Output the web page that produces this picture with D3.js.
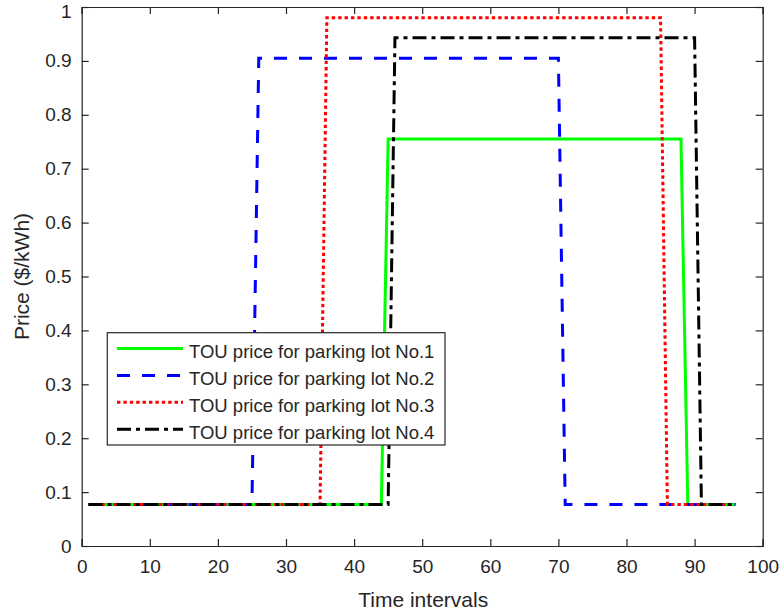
<!DOCTYPE html>
<html>
<head>
<meta charset="utf-8">
<script src="https://cdn.jsdelivr.net/npm/d3@7"></script>
<style>
  html, body { margin: 0; padding: 0; background: #fff; }
  svg { display: block; }
  text { font-family: "Liberation Sans", Arial, Helvetica, sans-serif; fill: #262626; }
</style>
</head>
<body>
<svg id="chart" width="783" height="615"></svg>
<script>
// Time-of-use price profiles: corner points of each step profile (interval, $/kWh)
const baseline = 0.077;
const seriesNames = [
  "TOU price for parking lot No.1",
  "TOU price for parking lot No.2",
  "TOU price for parking lot No.3",
  "TOU price for parking lot No.4"
];
const lot1X = [1, 44, 45, 88, 89, 96];
const lot1Y = [baseline, baseline, 0.755, 0.755, baseline, baseline];
const lot2X = [1, 25, 26, 70, 71, 96];
const lot2Y = [baseline, baseline, 0.905, 0.905, baseline, baseline];
const lot3X = [1, 35, 36, 85, 86, 96];
const lot3Y = [baseline, baseline, 0.980, 0.980, baseline, baseline];
const lot4X = [1, 45, 46, 90, 91, 96];
const lot4Y = [baseline, baseline, 0.943, 0.943, baseline, baseline];
const xTicks = [0, 10, 20, 30, 40, 50, 60, 70, 80, 90, 100];
const yTicks = [0, 0.1, 0.2, 0.3, 0.4, 0.5, 0.6, 0.7, 0.8, 0.9, 1];

const styles = [
  { color: "#00ff00", dash: null, width: 3 },
  { color: "#0000ff", dash: "13,12", width: 3 },
  { color: "#ff0000", dash: "3.4,3", width: 3 },
  { color: "#000000", dash: "14,5,4,5", width: 3 }
];

const series = [
  lot1X.map((x, i) => [x, lot1Y[i]]),
  lot2X.map((x, i) => [x, lot2Y[i]]),
  lot3X.map((x, i) => [x, lot3Y[i]]),
  lot4X.map((x, i) => [x, lot4Y[i]])
];

const svg = d3.select("#chart");
const plotLeft = 81.7, plotRight = 762.7, plotTop = 7, plotBottom = 546;
const x = d3.scaleLinear().domain([0, 100]).range([plotLeft, plotRight]);
const y = d3.scaleLinear().domain([0, 1]).range([plotBottom, plotTop]);
const axisColor = "#262626";
const tickFont = "19px";

// data lines, drawn in lot order so lot 4 sits on top
const line = d3.line().x(d => x(d[0])).y(d => y(d[1]));
const plot = svg.append("g");
series.forEach((s, i) => {
  plot.append("path")
    .datum(s)
    .attr("d", line)
    .attr("fill", "none")
    .attr("stroke", styles[i].color)
    .attr("stroke-width", styles[i].width)
    .attr("stroke-dasharray", styles[i].dash)
    .attr("stroke-linejoin", "miter");
});

// axes with inward ticks on all four sides (box on)
const tickLen = 7;
const fmt = d => d3.format("~g")(d);
const bottomAxis = d3.axisBottom(x).tickValues(xTicks).tickSize(-tickLen).tickPadding(14).tickFormat(fmt);
const topAxis = d3.axisTop(x).tickValues(xTicks).tickSize(-tickLen).tickFormat("");
const leftAxis = d3.axisLeft(y).tickValues(yTicks).tickSize(-tickLen).tickPadding(10).tickFormat(fmt);
const rightAxis = d3.axisRight(y).tickValues(yTicks).tickSize(-tickLen).tickFormat("");

function styleAxis(g) {
  g.select(".domain").attr("stroke", axisColor).attr("stroke-width", 1.2);
  g.selectAll(".tick line").attr("stroke", axisColor).attr("stroke-width", 1.2);
  g.selectAll(".tick text").style("font-size", tickFont).attr("fill", axisColor)
    .style("font-family", "'Liberation Sans', Arial, sans-serif");
}

svg.append("g").attr("transform", `translate(0,${plotBottom})`).call(bottomAxis).call(styleAxis)
  .selectAll(".tick text").attr("dy", "0.71em");
svg.append("g").attr("transform", `translate(0,${plotTop})`).call(topAxis).call(styleAxis);
const leftG = svg.append("g").attr("transform", `translate(${plotLeft},0)`).call(leftAxis).call(styleAxis);
// keep the top label "1" inside the canvas
leftG.selectAll(".tick text").filter(d => d === 1).attr("dy", "0.56em");
svg.append("g").attr("transform", `translate(${plotRight},0)`).call(rightAxis).call(styleAxis);

// axis titles
svg.append("text")
  .attr("x", (plotLeft + plotRight) / 2 + 1)
  .attr("y", 607)
  .attr("text-anchor", "middle")
  .style("font-size", "21px")
  .text("Time intervals");
svg.append("text")
  .attr("transform", `translate(29,${(plotTop + plotBottom) / 2}) rotate(-90)`)
  .attr("text-anchor", "middle")
  .style("font-size", "21px")
  .text("Price ($/kWh)");

// legend
const lg = svg.append("g");
lg.append("rect")
  .attr("x", 107.3).attr("y", 332.7)
  .attr("width", 337.7).attr("height", 112.3)
  .attr("fill", "#fff")
  .attr("stroke", axisColor)
  .attr("stroke-width", 1.2);
seriesNames.forEach((name, i) => {
  const ry = 348.5 + i * 26.9;
  lg.append("line")
    .attr("x1", 117).attr("x2", 183)
    .attr("y1", ry).attr("y2", ry)
    .attr("stroke", styles[i].color)
    .attr("stroke-width", styles[i].width)
    .attr("stroke-dasharray", styles[i].dash);
  lg.append("text")
    .attr("x", 189)
    .attr("y", ry + 9.5)
    .style("font-size", "18.5px")
    .text(name);
});
</script>
</body>
</html>
